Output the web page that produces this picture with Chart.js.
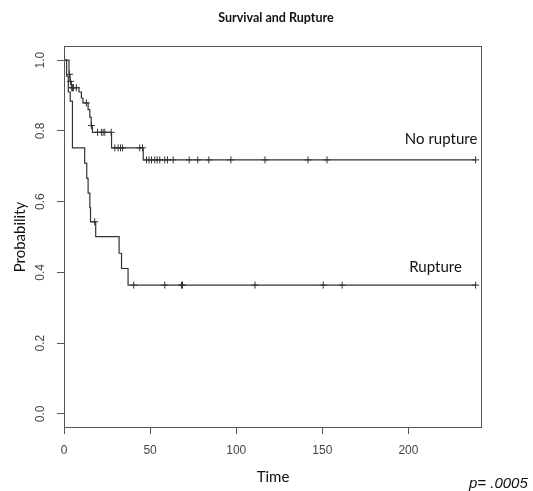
<!DOCTYPE html>
<html>
<head>
<meta charset="utf-8">
<script src="https://cdn.jsdelivr.net/npm/chart.js@4.4.0/dist/chart.umd.min.js"></script>
<style>
  html, body { margin: 0; padding: 0; background: #fff; }
  #wrap { width: 533px; height: 491px; }
</style>
</head>
<body>
<div id="wrap"><canvas id="kmChart" width="533" height="491"></canvas></div>
<script>
// Kaplan-Meier steps: time of each drop and survival after it
var noRuptureTimes = [0, 2.9, 3.5, 4.3, 8.7, 10.1, 11.0, 14.0, 15.0, 15.8, 16.5, 27.6, 46.0];
var noRuptureSurv = [1.0, 0.96, 0.94, 0.922, 0.91, 0.893, 0.879, 0.86, 0.838, 0.815, 0.796, 0.752, 0.718];
var noRuptureCensored = [3.2, 3.7, 4.5, 5.0, 5.5, 7.2, 13.0, 15.9, 19.5, 21.7, 22.7, 23.7, 27.4,
    29.5, 31.4, 32.8, 34.0, 44.0, 45.6, 47.9, 49.4, 50.8, 52.7, 54.1, 55.6, 58.5, 60.1, 63.4,
    72.7, 77.7, 84.1, 96.9, 116.7, 141.7, 152.7, 239];

var ruptureTimes = [0, 1.5, 2.5, 3.6, 4.9, 12.0, 13.2, 14.0, 15.0, 15.4, 18.4, 32.0, 33.4, 37.2];
var ruptureSurv = [1.0, 0.955, 0.91, 0.884, 0.752, 0.709, 0.666, 0.624, 0.583, 0.543, 0.501, 0.454, 0.411, 0.364];
var ruptureCensored = [17.8, 40.5, 58.5, 68.2, 68.8, 110.9, 150.5, 161.5, 239];

var xTicks = [0, 50, 100, 150, 200];
var yTicks = [0, 0.2, 0.4, 0.6, 0.8, 1.0];
var yTickLabels = ['0.0', '0.2', '0.4', '0.6', '0.8', '1.0'];

var curveNames = ['No rupture', 'Rupture'];
var nameAnchors = [[240, 0.777], [231, 0.414]];

var lineColor = '#333';

function survAt(times, surv, t) {
    var s = surv[0];
    for (var i = 0; i < times.length; i++) {
        if (times[i] <= t) s = surv[i];
    }
    return s;
}

function stepPoints(times, surv, censored) {
    var pts = times.map(function (t, i) { return { x: t, y: surv[i] }; });
    pts.push({ x: censored[censored.length - 1], y: surv[surv.length - 1] });
    return pts;
}

function censorPoints(times, surv, censored) {
    return censored.map(function (t) { return { x: t, y: survAt(times, surv, t) }; });
}

var extras = {
    id: 'extras',
    afterDraw: function (chart) {
        var ctx = chart.ctx;
        var a = chart.chartArea;
        var xs = chart.scales.x, ys = chart.scales.y;
        ctx.save();
        // plot box
        ctx.strokeStyle = '#555';
        ctx.lineWidth = 1;
        ctx.strokeRect(Math.round(a.left) + 0.5, Math.round(a.top) + 0.5,
            Math.round(a.right - a.left) - 1, Math.round(a.bottom - a.top) - 1);

        // rotated y tick labels, R style
        ctx.fillStyle = '#444';
        ctx.font = '12px "Liberation Sans", Arial, sans-serif';
        ctx.textAlign = 'center';
        ctx.textBaseline = 'middle';
        yTicks.forEach(function (v, i) {
            var py = ys.getPixelForValue(v);
            ctx.save();
            ctx.translate(41, py);
            ctx.rotate(-Math.PI / 2);
            ctx.fillText(yTickLabels[i], 0, 0);
            ctx.restore();
        });

        // title
        ctx.fillStyle = '#111';
        ctx.font = 'bold 12.5px Lato, sans-serif';
        ctx.fillText('Survival and Rupture', (a.left + a.right) / 2 + 3, 18);

        // curve names
        ctx.font = '15px Lato, sans-serif';
        ctx.textAlign = 'right';
        curveNames.forEach(function (name, i) {
            ctx.fillText(name, xs.getPixelForValue(nameAnchors[i][0]), ys.getPixelForValue(nameAnchors[i][1]));
        });

        // p value
        ctx.textAlign = 'left';
        ctx.font = 'italic 15px "Liberation Sans", Arial, sans-serif';
        ctx.fillText('p= .0005', 469, 484);
        ctx.restore();
    }
};

var ctx = document.getElementById('kmChart').getContext('2d');

var kmChart = new Chart(ctx, {
    type: 'scatter',
    data: {
        datasets: [
            {
                label: 'No rupture',
                data: stepPoints(noRuptureTimes, noRuptureSurv, noRuptureCensored),
                showLine: true, stepped: 'before', borderColor: lineColor, borderWidth: 1.2,
                pointRadius: 0, fill: false
            },
            {
                label: 'Rupture',
                data: stepPoints(ruptureTimes, ruptureSurv, ruptureCensored),
                showLine: true, stepped: 'before', borderColor: lineColor, borderWidth: 1.2,
                pointRadius: 0, fill: false
            },
            {
                label: 'No rupture censored',
                data: censorPoints(noRuptureTimes, noRuptureSurv, noRuptureCensored),
                showLine: false, pointStyle: 'cross', pointRadius: 3.5,
                borderColor: lineColor, borderWidth: 1
            },
            {
                label: 'Rupture censored',
                data: censorPoints(ruptureTimes, ruptureSurv, ruptureCensored),
                showLine: false, pointStyle: 'cross', pointRadius: 3.5,
                borderColor: lineColor, borderWidth: 1
            }
        ]
    },
    options: {
        responsive: false,
        animation: false,
        layout: { padding: { top: 46, right: 51, left: 0, bottom: 0 } },
        plugins: {
            legend: { display: false },
            tooltip: { enabled: false },
            title: { display: false }
        },
        scales: {
            x: {
                type: 'linear',
                min: 0,
                max: 242.7,
                afterBuildTicks: function (s) { s.ticks = xTicks.map(function (v) { return { value: v }; }); },
                afterFit: function (s) { s.height = 63; },
                border: { display: false },
                grid: { drawOnChartArea: false, drawTicks: true, tickLength: 6, color: '#555' },
                ticks: {
                    color: '#444', padding: 9, maxRotation: 0, autoSkip: false,
                    font: { family: '"Liberation Sans", Arial, sans-serif', size: 12 }
                },
                title: {
                    display: true, text: 'Time', color: '#111',
                    font: { family: 'Lato, sans-serif', size: 15 },
                    padding: { top: 0, bottom: 5 }
                }
            },
            y: {
                type: 'linear',
                min: -0.04,
                max: 1.04,
                afterBuildTicks: function (s) { s.ticks = yTicks.map(function (v) { return { value: v }; }); },
                afterFit: function (s) { s.width = 64; },
                border: { display: false },
                grid: { drawOnChartArea: false, drawTicks: true, tickLength: 7, color: '#555' },
                ticks: { color: 'rgba(0,0,0,0)', font: { size: 11 } },
                title: {
                    display: true, text: 'Probability', color: '#111',
                    font: { family: 'Lato, sans-serif', size: 15 },
                    padding: { top: 11, bottom: 0 }
                }
            }
        }
    },
    plugins: [extras]
});
</script>
</body>
</html>
